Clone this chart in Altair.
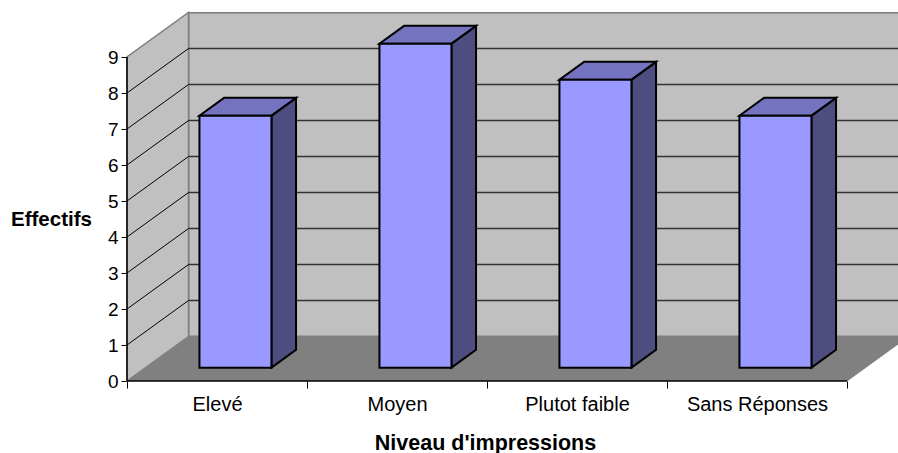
import json

import altair as alt
import pandas as pd

# Survey counts per impression level
categories = ["Elevé", "Moyen", "Plutot faible", "Sans Réponses"]
counts = [7, 9, 8, 7]
y_ticks = list(range(10))
x_ticks = [0, 1, 2, 3, 4]

# Oblique projection of the depth axis, in axis units
SHIFT_X = 61.5 / 180
SHIFT_Y = 44.5 / 36
BAR_LOW, BAR_HIGH = 0.3, 0.7
X_MAX = 771 / 180
Y_MAX = 369 / 36


def px(u, d):
    return u + d * SHIFT_X


def py(v, d):
    return v + d * SHIFT_Y


x_scale = alt.Scale(domain=[0, X_MAX], nice=False, zero=False)
y_scale = alt.Scale(domain=[0, Y_MAX], nice=False, zero=False)
label_expr = f"{json.dumps(categories + [''], ensure_ascii=False)}[datum.value]"
FONT = "Liberation Sans"

x_axis = alt.Axis(
    values=x_ticks, labelExpr=label_expr, labelOffset=90, labelFont=FONT, labelFontSize=20,
    labelColor="#000000", labelPadding=6, labelOverlap=False, labelBound=False, labelFlush=False,
    tickColor="#000000", tickSize=7, tickWidth=1, domain=False, grid=False,
    title="Niveau d'impressions", titleFont=FONT, titleFontSize=21.5, titleFontWeight="bold",
    titleColor="#000000", titleX=358, titleY=68, titleAnchor="start", titleAlign="center",
    titleBaseline="alphabetic",
)
y_axis = alt.Axis(
    values=y_ticks, format="d", labelFont=FONT, labelFontSize=19, labelColor="#000000",
    labelPadding=3, labelOverlap=False, labelBound=False, labelFlush=False,
    tickColor="#000000", tickSize=6, tickWidth=1, domain=False, grid=False,
    title="Effectifs", titleFont=FONT, titleFontSize=20.5, titleFontWeight="bold", titleColor="#000000",
    titleAngle=0, titleX=-116.5, titleY=213, titleAlign="left", titleBaseline="alphabetic",
)

# Every layer shares one x and one y scale, so the axis settings are the same throughout
X = alt.X("x:Q", scale=x_scale, axis=x_axis)
Y = alt.Y("y:Q", scale=y_scale, axis=y_axis, stack=None)

# Chart walls and floor
back_wall = alt.Chart(pd.DataFrame({
    "x": [px(0, 1)], "x2": [px(4, 1)], "y": [py(0, 1)], "y2": [py(9, 1)],
})).mark_rect(fill="#C0C0C0", stroke="#808080", strokeWidth=2, clip=True).encode(
    x=X, x2="x2:Q", y=Y, y2="y2:Q",
)

left_wall = alt.Chart(pd.DataFrame({
    "x": [px(0, 0), px(0, 1)], "y": [py(0, 0), py(0, 1)], "y2": [py(9, 0), py(9, 1)],
})).mark_area(fill="#C0C0C0", stroke="#808080", strokeWidth=1.5, orient="vertical").encode(
    x=X, y=Y, y2="y2:Q",
)

floor = alt.Chart(pd.DataFrame({
    "y": [py(0, 0), py(0, 1)], "x": [px(0, 0), px(0, 1)], "x2": [px(4, 0), px(4, 1)],
})).mark_area(fill="#808080", stroke="#808080", strokeWidth=1, orient="horizontal", clip=True).encode(
    y=Y, x=X, x2="x2:Q",
)

# Gridlines: along the back wall, then slanting across the left wall
grid_values = y_ticks[1:-1]
grid_back = alt.Chart(pd.DataFrame({
    "y": [py(v, 1) for v in grid_values + [9]],
    "x": [px(0, 1)] * (len(grid_values) + 1),
    "x2": [px(4, 1)] * (len(grid_values) + 1),
    "c": ["#333333"] * len(grid_values) + ["#808080"],
})).mark_rule(strokeWidth=1.5, clip=True).encode(
    x=X, x2="x2:Q", y=Y, color=alt.Color("c:N", scale=None, legend=None),
)

grid_left = alt.Chart(pd.DataFrame(
    [{"v": v, "x": px(0, d), "y": py(v, d)} for v in grid_values for d in (0, 1)]
)).mark_line(color="#000000", strokeWidth=1).encode(x=X, y=Y, detail="v:N")

# Base lines along the value and category axes
axis_y_line = alt.Chart(pd.DataFrame({"x": [0], "y": [0], "y2": [9]})).mark_rule(
    color="#000000", strokeWidth=1.5
).encode(x=X, y=Y, y2="y2:Q")
axis_x_line = alt.Chart(pd.DataFrame({"x": [0], "x2": [4], "y": [0]})).mark_rule(
    color="#000000", strokeWidth=1.5
).encode(x=X, x2="x2:Q", y=Y)

# Faces of each bar
front_rows, side_rows, top_rows = [], [], []
for i, (name, value) in enumerate(zip(categories, counts)):
    u0, u1 = i + BAR_LOW, i + BAR_HIGH
    front_rows.append({
        "name": name, "x": px(u0, BAR_LOW), "x2": px(u1, BAR_LOW),
        "y": py(0, BAR_LOW), "y2": py(value, BAR_LOW),
    })
    for d in (BAR_LOW, BAR_HIGH):
        side_rows.append({"name": name, "x": px(u1, d), "y": py(0, d), "y2": py(value, d)})
        top_rows.append({"name": name, "y": py(value, d), "x": px(u0, d), "x2": px(u1, d)})

edge = {"stroke": "#000000", "strokeWidth": 2}
side_faces = alt.Chart(pd.DataFrame(side_rows)).mark_area(
    fill="#4D4D80", orient="vertical", **edge
).encode(x=X, y=Y, y2="y2:Q", detail="name:N")
top_faces = alt.Chart(pd.DataFrame(top_rows)).mark_area(
    fill="#7373BF", orient="horizontal", **edge
).encode(y=Y, x=X, x2="x2:Q", detail="name:N")
front_faces = alt.Chart(pd.DataFrame(front_rows)).mark_rect(
    fill="#9999FF", **edge
).encode(x=X, x2="x2:Q", y=Y, y2="y2:Q")

chart = alt.layer(
    back_wall, floor, left_wall, grid_back, grid_left, axis_x_line, axis_y_line,
    side_faces, top_faces, front_faces,
).properties(
    width=771,
    height=369,
    padding={"left": 127, "top": 12, "right": 0, "bottom": 72},
    autosize=alt.AutoSizeParams(type="none"),
    background="#FFFFFF",
).configure_view(stroke=None)

chart.save("out.html", embed_options={"renderer": "svg", "actions": False})
